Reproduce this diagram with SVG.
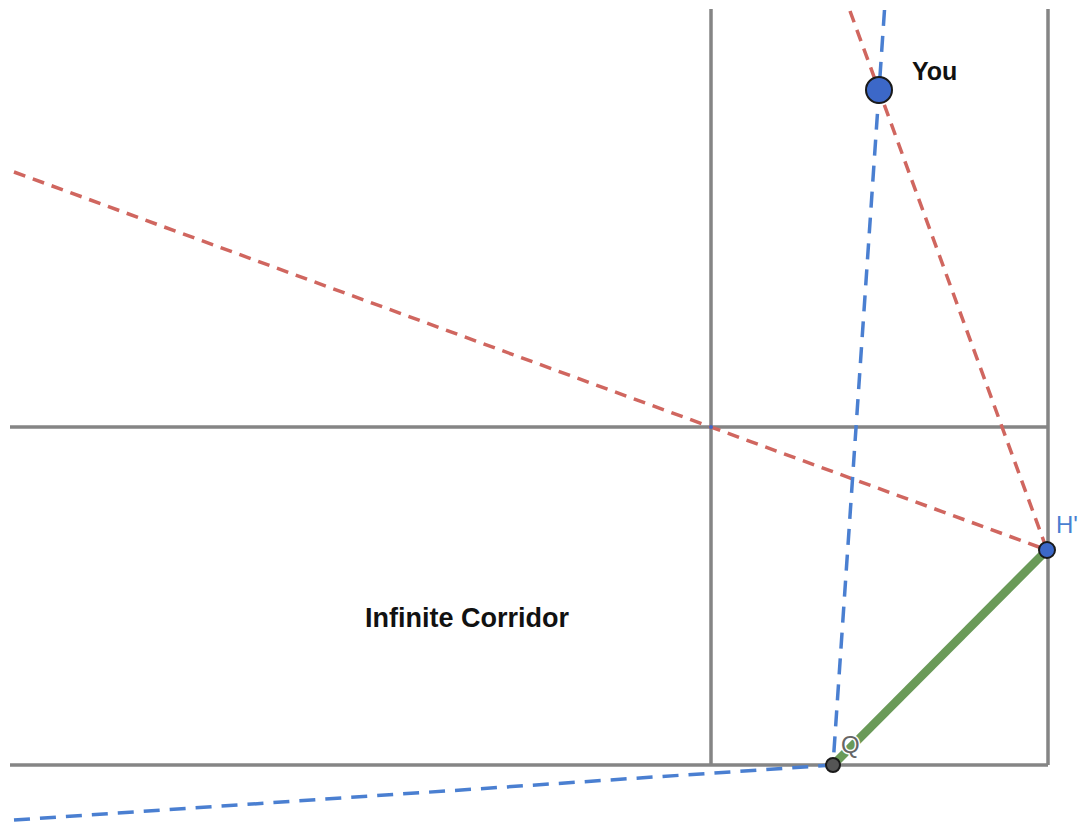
<svg xmlns="http://www.w3.org/2000/svg" width="1079" height="824" viewBox="0 0 1079 824">
<style>
.wall{stroke:#858585;stroke-width:3.5;fill:none}
.red{stroke:#d0665f;stroke-width:3.5;stroke-dasharray:12 8;fill:none}
.blue{stroke:#4a7fd1;stroke-width:3.5;stroke-dasharray:16 10;fill:none}
.lbl{font-family:"Liberation Sans",Arial,sans-serif;font-weight:bold;fill:#111}
</style>
<rect width="1079" height="824" fill="#fff"/>
<g id="walls">
<line class="wall" x1="711" y1="9" x2="711" y2="765"/>
<line class="wall" x1="1048" y1="9" x2="1048" y2="765"/>
<line class="wall" x1="10" y1="427" x2="1048" y2="427"/>
<line class="wall" x1="10" y1="765" x2="1048" y2="765"/>
</g>
<g id="connectors">
<line class="red" x1="14" y1="172" x2="1047" y2="550"/>
<line class="red" x1="850" y1="11" x2="1047" y2="550"/>
<line class="blue" x1="884.5" y1="10" x2="833" y2="765"/>
<line class="blue" x1="14" y1="820" x2="833" y2="765"/>
<line stroke="#6a9a58" stroke-width="8.5" x1="833" y1="765" x2="1047" y2="550"/>
</g>
<g id="corner">
<circle cx="711" cy="427" r="2" fill="#3c68c8"/>
</g>
<g id="you">
<circle cx="879" cy="90" r="13" fill="#3c68c8" stroke="#1a1a1a" stroke-width="2"/>
<text class="lbl" x="912" y="80" font-size="25">You</text>
</g>
<g id="hprime">
<circle cx="1047" cy="550" r="8" fill="#3c68c8" stroke="#1a1a1a" stroke-width="2"/>
<text x="1056" y="533" font-family="Liberation Sans, Arial, sans-serif" font-size="24" fill="#4a7fd1">H'</text>
</g>
<g id="q">
<circle cx="833" cy="765" r="7" fill="#555" stroke="#1a1a1a" stroke-width="2"/>
<text x="841" y="753" font-family="Liberation Sans, Arial, sans-serif" font-size="24" fill="#666" stroke="#fff" stroke-width="3" paint-order="stroke">Q</text>
</g>
<g id="corridor">
<text class="lbl" x="365" y="627" font-size="27">Infinite Corridor</text>
</g>
</svg>
